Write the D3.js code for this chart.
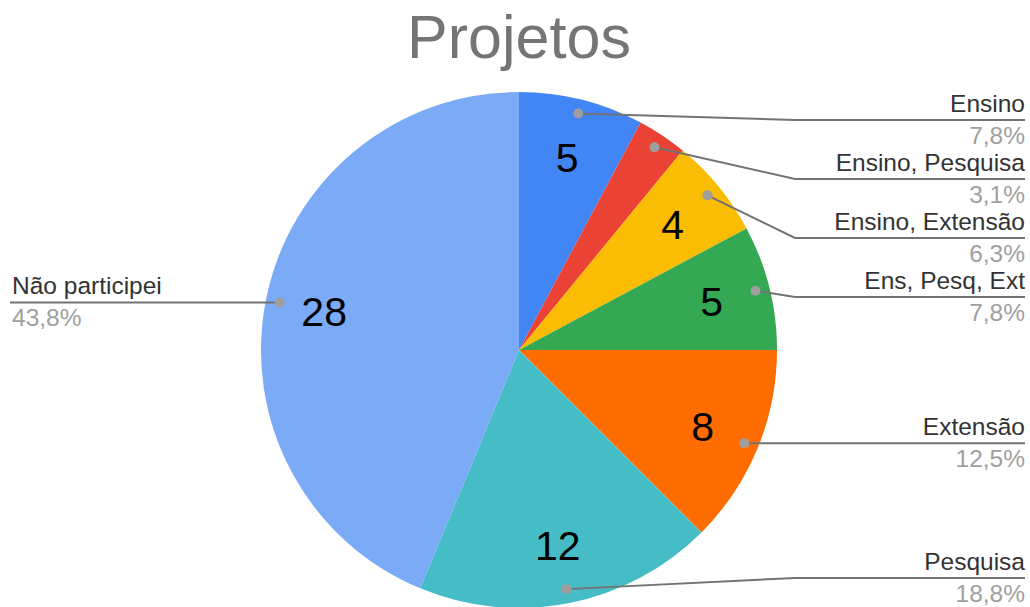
<!DOCTYPE html>
<html lang="pt">
<head>
  <meta charset="UTF-8" />
  <title>Projetos</title>
  <script src="https://d3js.org/d3.v7.min.js"></script>
  <style>
    body { margin: 0; padding: 0; background: #ffffff; }
    #chart { width: 1030px; height: 607px; }
    text { font-family: Arial, "Liberation Sans", sans-serif; }
  </style>
</head>
<body>
  <div id="chart"></div>
  <script>
    // data
    const categories = ["Ensino", "Ensino, Pesquisa", "Ensino, Extensão", "Ens, Pesq, Ext", "Extensão", "Pesquisa", "Não participei"];
    const counts = [5, 2, 4, 5, 8, 12, 28];
    const percentLabels = ["7,8%", "3,1%", "6,3%", "7,8%", "12,5%", "18,8%", "43,8%"];
    const colors = ["#4285f4", "#ea4335", "#fbbc04", "#34a853", "#ff6d01", "#46bdc6", "#7baaf7"];
    const title = "Projetos";

    const width = 1030, height = 607;
    const cx = 519, cy = 350, radius = 258;

    const svg = d3.select("#chart").append("svg")
      .attr("width", width)
      .attr("height", height);

    svg.append("text")
      .attr("x", cx)
      .attr("y", 58)
      .attr("text-anchor", "middle")
      .attr("fill", "#757575")
      .style("font-size", "61px")
      .text(title);

    const data = categories.map((c, i) => ({ name: c, value: counts[i], pct: percentLabels[i], color: colors[i] }));

    const pie = d3.pie().sort(null).value(d => d.value);
    const arcs = pie(data);

    const arc = d3.arc().innerRadius(0).outerRadius(radius);
    const labelArc = d3.arc().innerRadius(radius * 0.77).outerRadius(radius * 0.77);
    const dotArc = d3.arc().innerRadius(radius * 0.945).outerRadius(radius * 0.945);

    const g = svg.append("g").attr("transform", `translate(${cx},${cy})`);

    g.selectAll("path.slice")
      .data(arcs)
      .enter()
      .append("path")
      .attr("class", "slice")
      .attr("d", arc)
      .attr("fill", d => d.data.color);

    // value labels inside slices (skip tiny ones)
    g.selectAll("text.val")
      .data(arcs.filter(d => d.data.value >= 3))
      .enter()
      .append("text")
      .attr("class", "val")
      .attr("transform", d => `translate(${labelArc.centroid(d)})`)
      .attr("text-anchor", "middle")
      .attr("dy", "0.36em")
      .attr("fill", "#000000")
      .style("font-size", "41px")
      .text(d => d.data.value);

    // leader line layout
    const rightX = 1025, leftX = 12;
    const gap = 59, topLimit = 120, bottomLimit = 578;
    const items = arcs.map(d => {
      const [dx, dy] = dotArc.centroid(d);
      const mid = (d.startAngle + d.endAngle) / 2;
      return { d, dotX: cx + dx, dotY: cy + dy, side: mid < Math.PI ? "right" : "left" };
    });

    ["right", "left"].forEach(side => {
      const list = items.filter(it => it.side === side).sort((a, b) => a.dotY - b.dotY);
      let prev = -Infinity;
      list.forEach(it => {
        it.lineY = Math.max(it.dotY, prev + gap, topLimit);
        prev = it.lineY;
      });
      let next = Infinity;
      for (let i = list.length - 1; i >= 0; i--) {
        const it = list[i];
        it.lineY = Math.min(it.lineY, next - gap, bottomLimit);
        next = it.lineY;
      }
    });

    const leaders = svg.append("g");
    items.forEach(it => {
      const right = it.side === "right";
      const elbowX = right ? 795 : 243;
      const endX = right ? rightX : leftX - 2;
      leaders.append("polyline")
        .attr("points", `${it.dotX},${it.dotY} ${elbowX},${it.lineY} ${endX},${it.lineY}`)
        .attr("fill", "none")
        .attr("stroke", "#737373")
        .attr("stroke-width", 2);
      leaders.append("circle")
        .attr("cx", it.dotX)
        .attr("cy", it.dotY)
        .attr("r", 5)
        .attr("fill", "#9e9e9e");

      const tx = right ? rightX : leftX;
      const anchor = right ? "end" : "start";
      leaders.append("text")
        .attr("x", tx)
        .attr("y", it.lineY - 8)
        .attr("text-anchor", anchor)
        .attr("fill", "#333333")
        .style("font-size", "24.5px")
        .text(it.d.data.name);
      leaders.append("text")
        .attr("x", tx)
        .attr("y", it.lineY + 24)
        .attr("text-anchor", anchor)
        .attr("fill", "#a0a0a0")
        .style("font-size", "24.5px")
        .text(it.d.data.pct);
    });
  </script>
</body>
</html>
